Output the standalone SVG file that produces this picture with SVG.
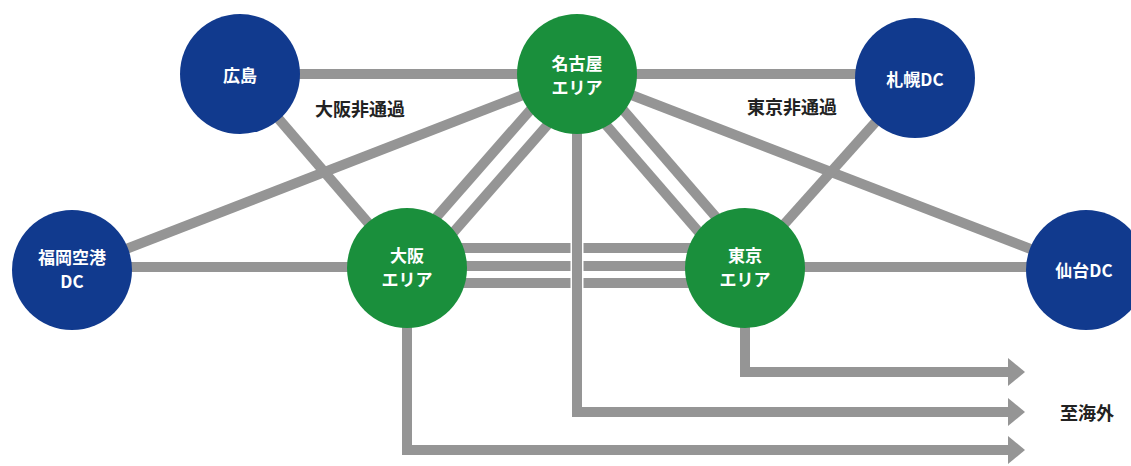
<svg xmlns="http://www.w3.org/2000/svg" width="1131" height="466" viewBox="0 0 1131 466">
<style>
.ln{stroke:#959595;stroke-width:10;fill:none;stroke-linejoin:miter}
.cas{stroke:#ffffff;stroke-width:13;fill:none}
.ah{fill:#959595}
.blue{fill:#113a8e}
.green{fill:#1a8f3c}
.nt{fill:#ffffff;font-family:"Noto Sans CJK JP","Noto Sans",sans-serif;font-size:17px;font-weight:700;text-anchor:middle}
.lb{fill:#222222;font-family:"Noto Sans CJK JP","Noto Sans",sans-serif;font-size:18px;font-weight:700;text-anchor:middle}
</style>
<rect width="1131" height="466" fill="#ffffff"/>
<g id="connectors">
<line class="ln" x1="240" y1="74" x2="577" y2="74"/>
<line class="ln" x1="577" y1="74" x2="915" y2="74"/>
<line class="ln" x1="240" y1="74" x2="407" y2="268"/>
<line class="ln" x1="72" y1="270" x2="577" y2="74"/>
<line class="ln" x1="577" y1="74" x2="1085" y2="270"/>
<line class="ln" x1="915" y1="78" x2="745" y2="268"/>
<line class="ln" x1="72" y1="267" x2="407" y2="267"/>
<line class="ln" x1="745" y1="267" x2="1085" y2="267"/>
<line class="ln" x1="407" y1="248" x2="745" y2="248"/>
<line class="ln" x1="407" y1="266" x2="745" y2="266"/>
<line class="ln" x1="407" y1="283" x2="745" y2="283"/>
<line class="ln" x1="568" y1="67" x2="398" y2="261"/>
<line class="ln" x1="586" y1="81" x2="416" y2="275"/>
<line class="ln" x1="568" y1="81" x2="736" y2="275"/>
<line class="ln" x1="586" y1="67" x2="754" y2="261"/>
<path class="ln" d="M745,320 V372 H1009"/>
<path class="ln" d="M407,320 V450 H1009"/>
<line class="cas" x1="577" y1="135" x2="577" y2="300"/>
<path class="ln" d="M577,120 V412 H1009"/>
<polygon class="ah" points="1008,358 1025,372 1008,386"/>
<polygon class="ah" points="1008,398 1025,412 1008,426"/>
<polygon class="ah" points="1008,436 1025,450 1008,464"/>
</g>
<g id="hiroshima"><circle class="blue" cx="240" cy="74" r="60"/><text class="nt" x="240" y="82">広島</text></g>
<g id="nagoya"><circle class="green" cx="577" cy="74" r="60"/><text class="nt" x="577" y="70">名古屋</text><text class="nt" x="577" y="94">エリア</text></g>
<g id="sapporo"><circle class="blue" cx="915" cy="78" r="60"/><text class="nt" x="915" y="86">札幌DC</text></g>
<g id="fukuoka"><circle class="blue" cx="72" cy="270" r="60"/><text class="nt" x="72" y="264">福岡空港</text><text class="nt" x="72" y="288">DC</text></g>
<g id="osaka"><circle class="green" cx="407" cy="268" r="60"/><text class="nt" x="407" y="262">大阪</text><text class="nt" x="407" y="286">エリア</text></g>
<g id="tokyo"><circle class="green" cx="745" cy="268" r="60"/><text class="nt" x="745" y="262">東京</text><text class="nt" x="745" y="286">エリア</text></g>
<g id="sendai"><circle class="blue" cx="1086" cy="270" r="60"/><text class="nt" x="1084" y="277">仙台DC</text></g>
<g id="labels">
<text class="lb" x="360" y="116">大阪非通過</text>
<text class="lb" x="792" y="114">東京非通過</text>
<text class="lb" x="1087" y="420">至海外</text>
</g>
</svg>
